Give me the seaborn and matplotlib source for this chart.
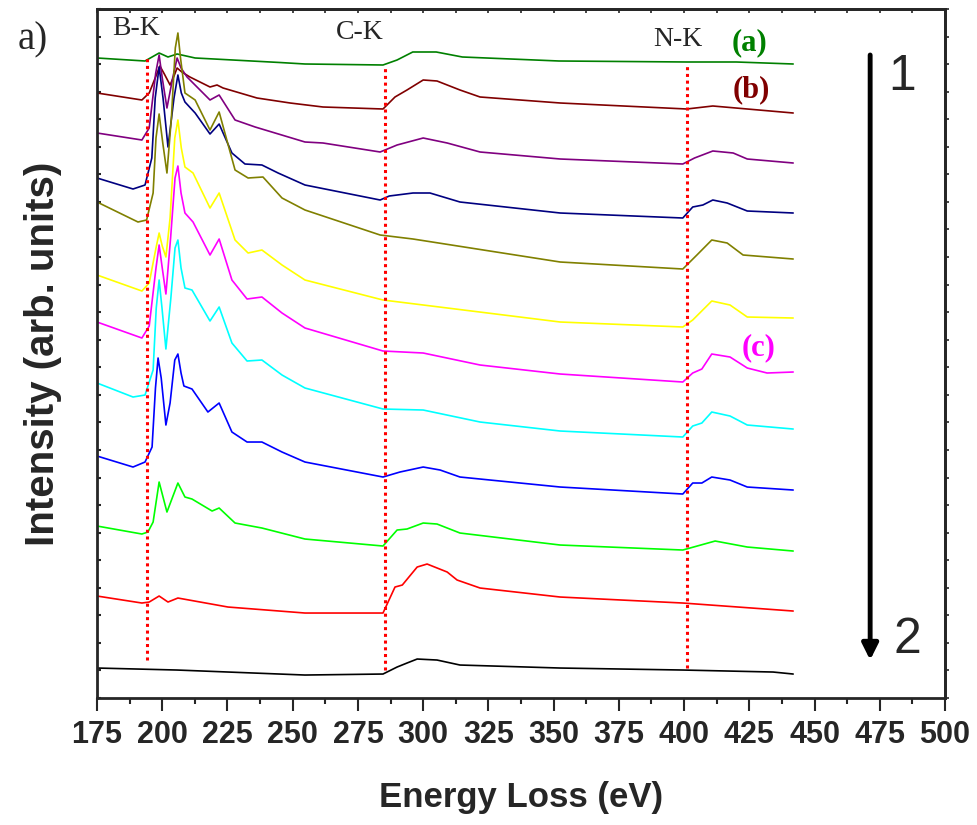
import numpy as np
import pandas as pd
import matplotlib
matplotlib.use("Agg")
import matplotlib.pyplot as plt
import seaborn as sns

# EELS spectra (energy loss in eV, stacked intensity in arb. units)
green_ev = [175, 193.4, 198.8, 202.2, 205.7, 212.6, 245, 254.7, 284.6, 290, 296, 305, 315, 352, 401, 420, 441.8]
green_int = [640, 637, 645, 641, 644, 640, 635.5, 634, 633, 638, 646, 646, 641, 637, 636, 636, 634]

darkred_ev = [175, 192.2, 195, 197.6, 199.1, 200.8, 203, 204.5, 205.7, 207.5, 210.6, 218.3, 221, 223.3, 236.3,
              249, 261.6, 284.6, 289.2, 293.8, 300, 305.3, 314.1, 321.8, 352.5, 401, 411, 441.8]
darkred_int = [605, 598, 605, 622, 632, 624, 613, 622, 630, 626, 621, 611, 613, 610, 600,
               595, 591, 589, 601, 608, 618, 617, 608, 601, 595, 589, 592, 585]

purple_ev = [175, 192.2, 195, 197.5, 198.8, 200, 201.8, 204, 205.7, 207.2, 209.5, 218.3, 221.8, 227.9, 235.6,
             254.7, 261.6, 283.5, 290, 300, 309.2, 321.8, 352.5, 399.5, 404, 411, 418.8, 424.2, 441.8]
purple_int = [565, 558, 570, 625, 643, 620, 590, 620, 640, 630, 621, 598, 603, 578, 571,
              556, 555, 546, 553, 560, 555, 546, 539, 534, 540, 547, 545, 539, 535]

navy_ev = [175, 188.8, 193.4, 196, 197.3, 198.8, 200.3, 202.2, 204.5, 206, 207.3, 208.7, 212.6, 218.3, 221.8,
           226.7, 231.7, 238.2, 244.4, 254.7, 283.5, 287, 296.1, 302.6, 314.1, 352.5, 399.5, 403.3, 407.2,
           411, 416.5, 424.2, 441.8]
navy_int = [520, 509, 513, 540, 600, 631, 600, 551, 600, 623, 605, 596, 585, 564, 574,
            545, 534, 533, 525, 513, 498, 502, 505, 505, 496, 485, 480, 491, 493,
            498, 495, 487, 485]

olive_ev = [175, 190.7, 194, 196.5, 197.6, 198.8, 200.2, 201.8, 203.5, 205, 206, 207, 208.7, 212.6, 218.3,
            221.8, 227.9, 232.9, 238.6, 245.9, 254.7, 283.5, 296.1, 352.5, 399.5, 404.9, 410.6, 416.5,
            422.6, 441.8]
olive_int = [496, 476, 478, 505, 560, 584, 555, 525, 580, 650, 665, 640, 605, 598, 568,
             586, 528, 520, 521, 500, 488, 463, 459, 436, 429, 443, 458, 455,
             443, 439]

yellow_ev = [175, 192.2, 195, 197.6, 198.8, 200, 201.4, 203, 204.8, 206, 207.3, 208.7, 211.8, 218.3, 221.8,
             227.9, 232.9, 238.2, 245.9, 254.7, 284.6, 352.5, 399.5, 403.3, 410.6, 417.6, 424.2, 441.8]
yellow_int = [423, 407, 415, 450, 465, 452, 441, 480, 560, 578, 550, 531, 525, 490, 505,
              458, 445, 448, 433, 418, 398, 376, 371, 378, 397, 393, 381, 380]

magenta_ev = [175, 192.2, 195, 197.6, 198.8, 200, 201.4, 203.2, 204.9, 206, 207.2, 208.7, 211.8, 218.3, 221.8,
              226.7, 232.5, 238.2, 245.9, 254.7, 284.6, 300, 321.8, 352.5, 399.5, 403.3, 406.8, 410.6,
              417.6, 424.2, 431.8, 441.8]
magenta_int = [376, 360, 372, 430, 453, 430, 404, 460, 520, 532, 505, 485, 476, 443, 459,
               418, 399, 401, 385, 370, 347, 345, 333, 324, 316, 325, 329, 344,
               341, 330, 325, 326]

cyan_ev = [175, 188.8, 193.4, 196.5, 197.7, 198.8, 199.9, 201.4, 203.3, 204.9, 206, 207.2, 208.7, 211.4, 218.3,
           221.8, 226.7, 232.5, 238.2, 245.9, 254.7, 284.6, 300, 321.8, 352.5, 399.5, 403.3, 406.8, 410.6,
           417.6, 424.2, 441.8]
cyan_int = [315, 301, 303, 328, 390, 418, 390, 349, 400, 450, 458, 430, 410, 408, 377,
            391, 355, 337, 338, 323, 310, 289, 288, 276, 267, 261, 272, 275, 286,
            282, 273, 269]

blue_ev = [175, 188.8, 193.4, 196.1, 197.4, 198.4, 199.6, 201.4, 203, 204.8, 206, 207.2, 208.3, 211.4, 217.5,
           221.8, 226.7, 232.5, 238.2, 245.9, 254.7, 284.6, 291.1, 300, 306.5, 314.1, 352.5, 399.5, 403.3,
           406.8, 410.6, 417.6, 424.2, 441.8]
blue_int = [242, 231, 236, 251, 310, 340, 320, 273, 295, 338, 344, 325, 312, 309, 286,
            295, 266, 256, 256, 246, 236, 221, 226, 231, 228, 221, 211, 204, 215,
            215, 221, 218, 211, 208]

lime_ev = [175, 192.2, 194.5, 196.5, 198.8, 201.8, 206, 208.7, 211.4, 219.1, 221.8, 227.9, 238.2, 254.7, 284.6,
           290, 293.8, 300, 305.3, 314.1, 352.5, 399.5, 411.9, 424.2, 441.8]
lime_int = [172, 164, 166, 176, 216, 186, 215, 201, 199, 187, 190, 175, 170, 159, 152,
            168, 169, 175, 174, 165, 153, 148, 157, 151, 147]

red_ev = [175, 192.2, 195, 198.8, 202.2, 206, 225.2, 254.7, 284.6, 289.2, 292, 297.7, 301.5, 309.2, 313,
          321.8, 352.5, 399.5, 441.8]
red_int = [102, 95, 96, 102, 96, 100, 91, 85, 85, 111, 113, 131, 134, 126, 118,
           110, 101, 95, 87]

black_ev = [175, 205.7, 254.7, 284.6, 290, 293.8, 297.7, 305.3, 314.1, 352.5, 399.5, 434.1, 441.8]
black_int = [30, 28, 23, 24, 31, 35, 39, 38, 33, 30, 28, 26, 24]

spectra = {
    "green": (green_ev, green_int, "#008000"),
    "darkred": (darkred_ev, darkred_int, "#800000"),
    "purple": (purple_ev, purple_int, "#800080"),
    "navy": (navy_ev, navy_int, "#000080"),
    "olive": (olive_ev, olive_int, "#808000"),
    "yellow": (yellow_ev, yellow_int, "#FFFF00"),
    "magenta": (magenta_ev, magenta_int, "#FF00FF"),
    "cyan": (cyan_ev, cyan_int, "#00FFFF"),
    "blue": (blue_ev, blue_int, "#0000FF"),
    "lime": (lime_ev, lime_int, "#00FF00"),
    "red": (red_ev, red_int, "#FF0000"),
    "black": (black_ev, black_int, "#000000"),
}

# edge markers (eV)
edge_ev = [194, 285.4, 401]
edge_top = [643, 631, 635]
edge_bottom = [38, 28, 30]

frames = []
for name, (ev, inten, _) in spectra.items():
    frames.append(pd.DataFrame({"ev": ev, "intensity": inten, "spectrum": name}))
df = pd.concat(frames, ignore_index=True)
palette = {name: c for name, (_, _, c) in spectra.items()}

sns.set_style("ticks")
plt.rcParams["font.family"] = ["Liberation Sans", "DejaVu Sans"]

fig = plt.figure(figsize=(9.78, 8.25), dpi=100)
ax = fig.add_axes([0.0992, 0.1539, 0.8671, 0.8352])

sns.lineplot(data=df, x="ev", y="intensity", hue="spectrum", palette=palette,
             sort=False, estimator=None, legend=False, linewidth=1.2, ax=ax)

ax.vlines(edge_ev, edge_bottom, edge_top, colors="#FF0000", linestyles=(0, (1, 1.2)), linewidth=2.2)

serif = "Liberation Serif"
ax.text(190, 669, "B-K", ha="center", va="center", fontsize=20, family=serif)
ax.text(275.8, 665, "C-K", ha="center", va="center", fontsize=20, family=serif)
ax.text(397.7, 658, "N-K", ha="center", va="center", fontsize=20, family=serif)
ax.text(424.9, 655, "(a)", ha="center", va="center", fontsize=22, family=serif,
        fontweight="bold", color="#008000")
ax.text(425.7, 608, "(b)", ha="center", va="center", fontsize=22, family=serif,
        fontweight="bold", color="#800000")
ax.text(428.4, 350, "(c)", ha="center", va="center", fontsize=22, family=serif,
        fontweight="bold", color="#FF00FF")

# direction arrow 1 -> 2
ax.annotate("", xy=(471.3, 38), xytext=(471.3, 643),
            arrowprops=dict(arrowstyle="-|>", lw=3.5, color="black", mutation_scale=24,
                            shrinkA=0, shrinkB=0))
ax.text(483.6, 621, "1", ha="center", va="center", fontsize=36)
ax.text(485.5, 58, "2", ha="center", va="center", fontsize=36)

fig.text(0.033, 0.952, "a)", ha="center", va="center", fontsize=28, family=serif)

ax.set_xlim(175, 500)
ax.set_ylim(0, 689)
ax.set_xticks(np.arange(175, 501, 25))
ax.set_xticks(np.arange(187.5, 500, 25), minor=True)
ax.set_yticks(np.linspace(0, 689, 26))
ax.set_yticklabels([])
ax.tick_params(axis="x", which="major", direction="out", length=9, width=1.5, pad=7,
               labelsize=22)
ax.tick_params(axis="x", which="minor", direction="out", length=4, width=1.5)
ax.tick_params(axis="y", which="major", direction="in", length=3, width=1.5)
for lbl in ax.get_xticklabels():
    lbl.set_fontweight("bold")

top = ax.secondary_xaxis("top")
top.set_xticks(np.arange(175, 501, 12.5))
top.set_xticklabels([])
top.tick_params(direction="in", length=3, width=1.2)
right = ax.secondary_yaxis("right")
right.set_yticks(np.linspace(0, 689, 26))
right.set_yticklabels([])
right.tick_params(direction="out", length=3, width=1.2)

for sp in ax.spines.values():
    sp.set_linewidth(2)
    sp.set_visible(True)
top.spines["top"].set_linewidth(2)
right.spines["right"].set_linewidth(2)

ax.set_xlabel("Energy Loss (eV)", fontsize=25, fontweight="bold", labelpad=22)
ax.set_ylabel("Intensity (arb. units)", fontsize=29, fontweight="bold", labelpad=22)

fig.savefig("out.png", dpi=100)
